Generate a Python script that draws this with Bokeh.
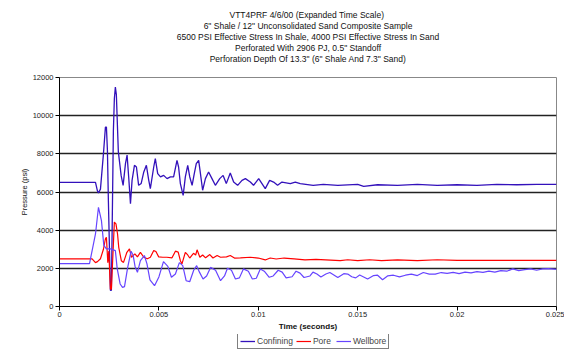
from bokeh.plotting import figure
from bokeh.models import Range1d, Title, Legend, LegendItem, FixedTicker
from bokeh.layouts import column
from bokeh.embed import file_html
from bokeh.resources import INLINE

title_lines = [
    "VTT4PRF  4/6/00 (Expanded Time Scale)",
    "6\" Shale / 12\" Unconsolidated Sand Composite Sample",
    "6500 PSI Effective Stress In Shale, 4000 PSI Effective Stress In Sand",
    "Perforated With 2906 PJ, 0.5\" Standoff",
    "Perforation Depth Of 13.3\" (6\" Shale And 7.3\" Sand)",
]

x_ticks = [0, 0.005, 0.01, 0.015, 0.02, 0.025]
x_tick_labels = ["0", "0.005", "0.01", "0.015", "0.02", "0.025"]
y_ticks = [0, 2000, 4000, 6000, 8000, 10000, 12000]
series_names = ["Confining", "Pore", "Wellbore"]
series_colors = ["#3311BB", "#FF0000", "#6644FF"]

confining_t = [0, 0.00181, 0.00191, 0.00196, 0.00206, 0.00221, 0.00226, 0.00231, 0.00236,
               0.00241, 0.00246, 0.00256, 0.00261, 0.00271, 0.00276, 0.00281, 0.00286,
               0.00296, 0.00310, 0.00320, 0.00332, 0.00340, 0.00348, 0.00357, 0.00365,
               0.00377, 0.00387, 0.00398, 0.00411, 0.00424, 0.00437, 0.00449, 0.00457,
               0.00474, 0.00482, 0.00494, 0.00508, 0.00524, 0.00541, 0.00558, 0.00574,
               0.00591, 0.00599, 0.00608, 0.00622, 0.00633, 0.00645, 0.00655, 0.00667,
               0.00678, 0.00688, 0.00700, 0.00709, 0.00720, 0.00734, 0.00750, 0.00767,
               0.00784, 0.00806, 0.00823, 0.00839, 0.00859, 0.00876, 0.00896, 0.00918,
               0.00935, 0.00960, 0.00976, 0.01002, 0.01035, 0.01057, 0.01077, 0.01097,
               0.01119, 0.01161, 0.01186, 0.01211, 0.01276, 0.01327, 0.01400, 0.01500,
               0.01530, 0.01600, 0.01700, 0.01800, 0.01900, 0.02000, 0.02100, 0.02200,
               0.02300, 0.02400, 0.02500]
confining_v = [6500, 6500, 6050, 5950, 6150, 8000, 8700, 9400, 9400,
               8200, 5500, 850, 850, 9200, 10900, 11500, 11100,
               8100, 6870, 6350, 7500, 7930, 6790, 5390, 6610,
               7400, 7310, 6350, 6450, 7050, 7400, 6610, 6175,
               7310, 7750, 6960, 6790, 6870, 6700, 6790, 6790,
               7660, 7310, 6440, 5820, 6790, 7400, 6800, 6350,
               6960, 7490, 7660, 6960, 6090, 6700, 7050, 6700,
               6350, 6700, 6870, 6440, 7000, 6520, 6350, 6610,
               6700, 6520, 6350, 6700, 6175, 6610, 6520, 6350,
               6520, 6440, 6520, 6440, 6350, 6400, 6350, 6400,
               6300, 6380, 6350, 6400, 6350, 6380, 6350, 6400,
               6380, 6400, 6400]

pore_t = [0, 0.00164, 0.00181, 0.00191, 0.00206, 0.00221, 0.00231, 0.00236, 0.00243,
          0.00248, 0.00256, 0.00261, 0.00276, 0.00284, 0.00292, 0.00298, 0.00311,
          0.00322, 0.00339, 0.00352, 0.00362, 0.00379, 0.00392, 0.00407, 0.00424,
          0.00442, 0.00457, 0.00474, 0.00485, 0.00499, 0.00519, 0.00540, 0.00566,
          0.00583, 0.00597, 0.00608, 0.00616, 0.00633, 0.00645, 0.00655, 0.00674,
          0.00685, 0.00692, 0.00706, 0.00720, 0.00735, 0.00756, 0.00772, 0.00793,
          0.00810, 0.00840, 0.00859, 0.00880, 0.00910, 0.00960, 0.01000, 0.01035,
          0.01060, 0.01090, 0.01130, 0.01180, 0.01235, 0.01290, 0.01412, 0.01450,
          0.01500, 0.01560, 0.01620, 0.01700, 0.01800, 0.01900, 0.02000, 0.02500]
pore_v = [2500, 2500, 2300, 2350, 2500, 3000, 3550, 3630, 2300,
          2900, 910, 910, 4420, 4330, 3800, 3100, 2400,
          2310, 2840, 3020, 2580, 2760, 2600, 2840, 2580,
          2500, 2580, 2930, 2880, 2600, 2580, 2580, 2550,
          2900, 2850, 2400, 2230, 2840, 2700, 2540, 2790,
          2700, 2970, 2580, 2700, 2550, 2720, 2540, 2670,
          2580, 2600, 2670, 2540, 2550, 2580, 2540, 2440,
          2540, 2490, 2540, 2500, 2440, 2470, 2400, 2450,
          2400, 2450, 2400, 2440, 2400, 2450, 2420, 2420]

wellbore_t = [0, 0.00151, 0.00181, 0.00196, 0.00211, 0.00223, 0.00236, 0.00256, 0.00281,
              0.00290, 0.00305, 0.00317, 0.00327, 0.00343, 0.00360, 0.00370, 0.00380,
              0.00392, 0.00407, 0.00427, 0.00440, 0.00455, 0.00478, 0.00500, 0.00523,
              0.00545, 0.00563, 0.00583, 0.00603, 0.00620, 0.00637, 0.00655, 0.00675,
              0.00690, 0.00704, 0.00722, 0.00740, 0.00760, 0.00785, 0.00810, 0.00830,
              0.00845, 0.00865, 0.00885, 0.00905, 0.00925, 0.00950, 0.00970, 0.00990,
              0.01010, 0.01030, 0.01055, 0.01075, 0.01100, 0.01120, 0.01140, 0.01170,
              0.01190, 0.01210, 0.01230, 0.01260, 0.01275, 0.01295, 0.01315, 0.01340,
              0.01360, 0.01380, 0.01400, 0.01430, 0.01450, 0.01470, 0.01490, 0.01510,
              0.01530, 0.01550, 0.01580, 0.01600, 0.01625, 0.01650, 0.01680, 0.01710,
              0.01740, 0.01770, 0.01800, 0.01830, 0.01860, 0.01890, 0.01920, 0.01950,
              0.01980, 0.02010, 0.02040, 0.02070, 0.02100, 0.02130, 0.02160, 0.02190,
              0.02220, 0.02250, 0.02280, 0.02310, 0.02340, 0.02370, 0.02400, 0.02430,
              0.02460, 0.02500]
wellbore_v = [2250, 2250, 3800, 5200, 4500, 3200, 3020, 3020, 2930,
              2000, 1180, 1000, 1040, 2050, 2900, 2700, 2100,
              1790, 2400, 2670, 2230, 1400, 1090, 1550, 2350,
              2100, 1530, 1700, 2300, 2140, 1350, 1300, 1900,
              2140, 1800, 1440, 1600, 2050, 1900, 1350, 1600,
              2000, 1900, 1440, 1500, 1970, 1850, 1440, 1480,
              1970, 1850, 1530, 1600, 1900, 1800, 1500, 1560,
              1850, 1750, 1520, 1600, 1800, 1700, 1550, 1700,
              1780, 1650, 1520, 1720, 1700, 1560, 1500, 1650,
              1550, 1440, 1620, 1640, 1400, 1600, 1640, 1550,
              1640, 1700, 1620, 1780, 1700, 1700, 1780, 1740,
              1790, 1720, 1800, 1760, 1830, 1790, 1850, 1800,
              1880, 1850, 1970, 1880, 1930, 1970, 1900, 1970,
              1980, 1950]

FONT = "Liberation Sans"

p = figure(width=564, height=334, output_backend="svg", toolbar_location=None,
           x_range=Range1d(0, 0.025), y_range=Range1d(0, 12000),
           min_border_left=59, min_border_right=8, min_border_top=77, min_border_bottom=28)
p.title.text = ""
p.title.visible = False

p.add_layout(Title(text=" ", text_font=FONT, text_font_size="11px", standoff=0), "above")
for line in reversed(title_lines):
    p.add_layout(Title(text=line, align="center", text_font=FONT, text_font_size="8.5px",
                       text_font_style="normal", text_color="#111111",
                       standoff=-1.2), "above")

l1 = p.line(confining_t, confining_v, line_color=series_colors[0], line_width=1.3)
l2 = p.line(pore_t, pore_v, line_color=series_colors[1], line_width=1.2)
l3 = p.line(wellbore_t, wellbore_v, line_color=series_colors[2], line_width=1.2)

p.xaxis.ticker = FixedTicker(ticks=x_ticks)
p.xaxis.major_label_overrides = dict(zip(x_ticks, x_tick_labels))
p.yaxis.ticker = FixedTicker(ticks=y_ticks)

for ax in (p.xaxis[0], p.yaxis[0]):
    ax.axis_line_color = "black"
    ax.axis_line_width = 1
    ax.major_tick_line_color = "black"
    ax.major_tick_out = 4
    ax.major_tick_in = 0
    ax.minor_tick_out = 0
    ax.minor_tick_in = 0
    ax.major_label_text_font = FONT
    ax.major_label_text_font_size = "7.5px"
    ax.major_label_text_color = "#222222"
    ax.axis_label_text_font = FONT
    ax.axis_label_text_color = "#111111"

p.xaxis.axis_label = "Time (seconds)"
p.xaxis.axis_label_text_font_size = "8px"
p.xaxis.axis_label_text_font_style = "bold"
p.xaxis.major_label_standoff = 1
p.xaxis.axis_label_standoff = 2
p.yaxis.axis_label = "Pressure (psi)"
p.yaxis.axis_label_text_font_size = "7.5px"
p.yaxis.axis_label_text_font_style = "normal"
p.yaxis.major_label_standoff = 2
p.yaxis.axis_label_standoff = 1

p.xgrid.grid_line_color = None
p.ygrid.grid_line_color = "#222222"
p.ygrid.grid_line_width = 1.6
p.outline_line_color = "#888888"
p.outline_line_width = 1

# legend strip below the chart (its frame is aligned with the chart's frame);
# the proxy lines lie outside its y range, so only their legend glyphs show
p2 = figure(width=564, height=21, output_backend="svg", toolbar_location=None,
            x_range=Range1d(0, 0.025), y_range=Range1d(-2, -1),
            x_axis_location=None, y_axis_location=None, min_border=0)
p2.grid.visible = False
p2.outline_line_color = None
r1 = p2.line(confining_t, confining_v, line_color=series_colors[0], line_width=1.3)
r2 = p2.line(pore_t, pore_v, line_color=series_colors[1], line_width=1.2)
r3 = p2.line(wellbore_t, wellbore_v, line_color=series_colors[2], line_width=1.2)
legend = Legend(items=[LegendItem(label=series_names[0], renderers=[r1]),
                       LegendItem(label=series_names[1], renderers=[r2]),
                       LegendItem(label=series_names[2], renderers=[r3])],
                orientation="horizontal", location=(178, 6),
                label_text_font=FONT, label_text_font_size="8.5px",
                label_standoff=2, glyph_width=15, glyph_height=8,
                label_height=8, padding=2, spacing=3, margin=0,
                border_line_color="black", border_line_width=1,
                background_fill_alpha=1)
p2.add_layout(legend, "center")

layout = column(p, p2, spacing=0)
open("out.html", "w").write(file_html(layout, INLINE))
